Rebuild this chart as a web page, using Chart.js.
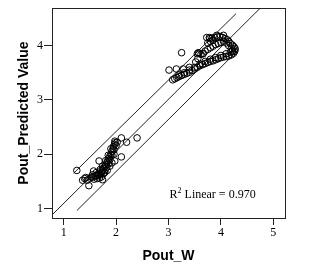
<!DOCTYPE html>
<html>
<head>
<meta charset="utf-8">
<script src="https://cdn.jsdelivr.net/npm/chart.js@4/dist/chart.umd.min.js"></script>
<style>
  html, body { margin: 0; padding: 0; background: #fff; }
</style>
</head>
<body>
<canvas id="chart" width="320" height="274"></canvas>
<script>
const pointsX = [
  1.25, 1.36, 1.48, 1.42, 1.57, 1.675, 1.74, 1.975, 2.10, 2.20, 2.40, 2.10, 1.975,
  1.50, 1.53, 1.56, 1.60, 1.63, 1.66, 1.69, 1.72, 1.74, 1.76, 1.78, 1.80, 1.82, 1.84,
  1.86, 1.88, 1.90, 1.92, 1.94, 1.95, 1.97, 1.98, 2.00, 1.96, 1.92, 1.88, 1.85, 1.82,
  1.79, 1.76, 1.72, 1.70, 1.78, 1.83, 1.88, 1.92, 1.68, 1.64, 1.58, 1.45, 1.40, 1.55,
  1.62, 1.70, 1.74, 1.80, 1.85, 1.90, 1.96, 2.02,
  3.01, 3.25, 3.15, 3.28, 3.40, 3.57, 3.66, 3.79, 3.92, 4.05,
  3.08, 3.12, 3.16, 3.20, 3.25, 3.30, 3.35, 3.40, 3.45, 3.50, 3.55, 3.60, 3.65, 3.70,
  3.75, 3.80, 3.85, 3.90, 3.95, 4.00, 4.05, 4.10, 4.15, 4.20, 4.24, 4.26, 4.27, 4.27,
  4.25, 4.22, 4.18, 4.15, 4.12, 4.08, 4.03, 3.98, 3.93, 3.88, 3.83, 3.78, 3.73,
  3.55, 3.58, 3.62, 3.66, 3.70, 3.75, 3.80, 3.85, 3.90, 3.95, 4.00, 4.05, 4.10, 4.15,
  4.20, 3.75, 3.80, 3.85, 3.20, 3.30, 3.40, 3.50, 3.60, 3.70, 3.80, 3.90, 4.00, 4.10,
  4.18, 4.22, 3.52, 3.56
];
const pointsY = [
  1.70, 1.52, 1.42, 1.57, 1.69, 1.875, 1.53, 2.24, 2.30, 2.22, 2.30, 1.95, 1.875,
  1.56, 1.58, 1.58, 1.60, 1.61, 1.62, 1.64, 1.66, 1.70, 1.73, 1.77, 1.80, 1.84, 1.88,
  1.92, 1.96, 2.00, 2.05, 2.10, 2.14, 2.18, 2.21, 2.16, 2.08, 1.98, 1.90, 1.82, 1.76,
  1.70, 1.64, 1.58, 1.62, 1.66, 1.70, 1.78, 1.84, 1.56, 1.55, 1.54, 1.52, 1.55, 1.62,
  1.66, 1.72, 1.78, 1.88, 1.98, 2.10, 2.00, 2.22,
  3.55, 3.87, 3.57, 3.57, 3.60, 3.87, 3.85, 4.13, 4.19, 4.19,
  3.37, 3.39, 3.41, 3.43, 3.45, 3.47, 3.49, 3.51, 3.54, 3.57, 3.60, 3.63, 3.65, 3.67,
  3.69, 3.71, 3.72, 3.74, 3.76, 3.78, 3.79, 3.80, 3.81, 3.83, 3.86, 3.89, 3.92, 3.95,
  3.98, 4.01, 4.04, 4.08, 4.11, 4.13, 4.15, 4.17, 4.16, 4.15, 4.14, 4.15, 4.15,
  3.85, 3.86, 3.84, 3.86, 3.90, 3.93, 3.96, 3.99, 4.02, 4.04, 4.06, 4.08, 4.05, 4.00,
  3.95, 4.05, 4.08, 4.10, 3.46, 3.50, 3.55, 3.60, 3.66, 3.71, 3.75, 3.78, 3.82, 3.85,
  3.88, 3.90, 3.70, 3.76
];

// fit line and the two interval lines (end points)
const fitX = [0.776, 4.748];
const fitY = [0.879, 4.688];
const upperX = [1.19, 4.29];
const upperY = [1.65, 4.59];
const lowerX = [1.25, 4.29];
const lowerY = [0.96, 3.88];

const xTicks = [1, 2, 3, 4, 5];
const yTicks = [1, 2, 3, 4];
const fitLabel = "Linear = 0.970";

function pairs(xs, ys) {
  return xs.map((x, i) => ({ x: x, y: ys[i] }));
}

const lineStyle = {
  type: "line",
  borderColor: "#222",
  borderWidth: 1,
  pointRadius: 0,
  fill: false
};

// frame around the plot + the R² note
const framePlugin = {
  id: "frame",
  beforeDatasetsDraw(chart) {
    const { ctx, chartArea: a } = chart;
    ctx.save();
    ctx.strokeStyle = "#222";
    ctx.lineWidth = 1;
    ctx.strokeRect(Math.round(a.left) + 0.5, Math.round(a.top) + 0.5,
      Math.round(a.right - a.left), Math.round(a.bottom - a.top));
    ctx.restore();
  },
  afterDraw(chart) {
    const { ctx } = chart;
    const x = chart.scales.x.getPixelForValue(3.02);
    const y = chart.scales.y.getPixelForValue(1.2);
    ctx.save();
    ctx.fillStyle = "#000";
    ctx.textBaseline = "alphabetic";
    ctx.font = "12px 'Liberation Serif'";
    ctx.fillText("R", x, y);
    let w = ctx.measureText("R").width;
    ctx.font = "8px 'Liberation Serif'";
    ctx.fillText("2", x + w, y - 5);
    w += ctx.measureText("2").width + 3;
    ctx.font = "12px 'Liberation Serif'";
    ctx.fillText(fitLabel, x + w, y);
    ctx.restore();
  }
};

const tickFont = { family: "'Liberation Serif'", size: 12 };
const titleFont = { family: "'Liberation Sans'", size: 14, weight: "bold" };

new Chart(document.getElementById("chart"), {
  type: "scatter",
  data: {
    datasets: [
      {
        data: pairs(pointsX, pointsY),
        pointStyle: "circle",
        pointRadius: 3.3,
        borderColor: "#000",
        borderWidth: 1,
        backgroundColor: "rgba(0,0,0,0)"
      },
      Object.assign({ data: pairs(fitX, fitY) }, lineStyle),
      Object.assign({ data: pairs(upperX, upperY) }, lineStyle),
      Object.assign({ data: pairs(lowerX, lowerY) }, lineStyle)
    ]
  },
  options: {
    responsive: false,
    animation: false,
    devicePixelRatio: 1,
    layout: { padding: { left: 0, right: 35, top: 5, bottom: 0 } },
    plugins: { legend: { display: false }, tooltip: { enabled: false } },
    scales: {
      x: {
        type: "linear",
        min: 0.776,
        max: 5.224,
        afterBuildTicks: s => { s.ticks = xTicks.map(v => ({ value: v })); },
        afterFit: s => { s.height = 56; },
        grid: { drawOnChartArea: false, drawTicks: true, tickLength: 7, color: "#222" },
        border: { display: true, color: "#222" },
        ticks: { color: "#000", font: tickFont, padding: 1, maxRotation: 0 },
        title: { display: true, text: "Pout_W", color: "#000", font: titleFont, padding: { top: 0, bottom: 9 } }
      },
      y: {
        type: "linear",
        min: 0.824,
        max: 4.69,
        afterBuildTicks: s => { s.ticks = yTicks.map(v => ({ value: v })); },
        afterFit: s => { s.width = 52; },
        grid: { drawOnChartArea: false, drawTicks: true, tickLength: 8, color: "#222" },
        border: { display: true, color: "#222" },
        ticks: { color: "#000", font: tickFont, padding: 1 },
        title: { display: true, text: "Pout_Predicted Value", color: "#000", font: titleFont, padding: { top: 16, bottom: 0 } }
      }
    }
  },
  plugins: [framePlugin]
});
</script>
</body>
</html>
